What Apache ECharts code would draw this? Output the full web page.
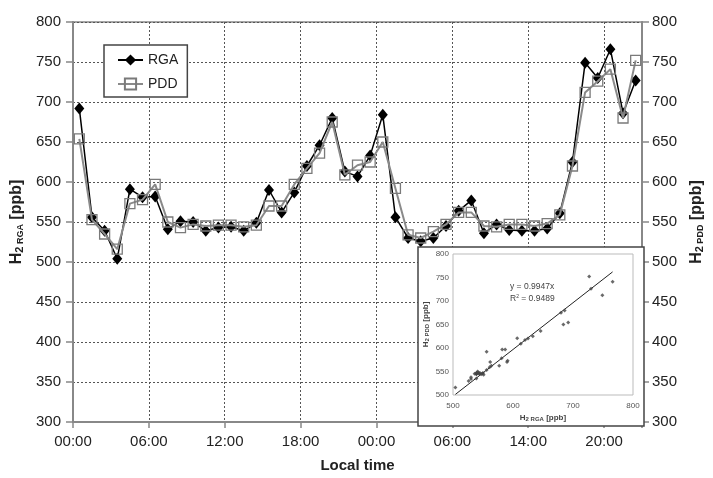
<!DOCTYPE html>
<html>
<head>
<meta charset="utf-8">
<script src="https://cdn.jsdelivr.net/npm/echarts@6/dist/echarts.min.js"></script>
<style>
  html, body { margin: 0; padding: 0; background: #fff; }
  #chart { width: 713px; height: 478px; }
</style>
</head>
<body>
<div id="chart"></div>
<script>
// Hydrogen mixing ratios from the two instruments, one value per sample slot
const tickLabels = ['00:00', '06:00', '12:00', '18:00', '00:00', '06:00', '14:00', '20:00'];
const samplesPerTick = 6;

const rga = [692, 556, 539, 504, 591, 581, 582, 541, 551, 550, 539, 543, 544, 539, 549,
             590, 562, 587, 620, 646, 680, 613, 607, 633, 684, 556, 530, 526, 530, 545,
             564, 577, 536, 547, 540, 539, 539, 542, 561, 625, 749, 730, 766, 686, 727];
const pdd = [654, 553, 535, 516, 573, 578, 597, 550, 543, 547, 545, 546, 546, 544, 546,
             570, 570, 597, 617, 636, 675, 609, 621, 625, 650, 592, 534, 530, 538, 547,
             562, 562, 545, 544, 547, 547, 545, 548, 559, 620, 712, 726, 741, 680, 752];

// Fit through the origin for the PDD vs RGA comparison
const fitSlope = 0.9947;
const fitR2 = 0.9489;

const FONT = '"Liberation Sans", Arial, sans-serif';
const TXT = '#222';

const nSamples = rga.length;
const rgaSeries = rga.map((v, i) => [i + 0.5, v]);
const pddSeries = pdd.map((v, i) => [i + 0.5, v]);
const pairs = rga.map((v, i) => [v, pdd[i]]);
const rgaMin = Math.min(...rga), rgaMax = Math.max(...rga);
const fitLine = [[rgaMin, fitSlope * rgaMin], [rgaMax, fitSlope * rgaMax]];

const titleRich = {
  h: { fontFamily: FONT, fontSize: 16, fontWeight: 'bold', color: TXT },
  s: { fontFamily: FONT, fontSize: 11, fontWeight: 'bold', color: TXT, verticalAlign: 'bottom' },
  t: { fontFamily: FONT, fontSize: 9, fontWeight: 'bold', color: TXT, verticalAlign: 'bottom' }
};
const smallRich = {
  h: { fontFamily: FONT, fontSize: 8, fontWeight: 'bold', color: '#444' },
  s: { fontFamily: FONT, fontSize: 6, fontWeight: 'bold', color: '#444', verticalAlign: 'bottom' }
};

const gridLine = { show: true, lineStyle: { color: '#555', width: 1, type: [2, 2] } };
const axisLineMain = { show: true, lineStyle: { color: '#888', width: 2 } };

const chart = echarts.init(document.getElementById('chart'), null, { renderer: 'canvas' });

chart.setOption({
  animation: false,
  backgroundColor: '#fff',
  legend: {
    orient: 'vertical',
    left: 104, top: 45,
    padding: [8, 9, 6, 13],
    itemWidth: 25, itemHeight: 14, itemGap: 10,
    borderColor: '#444', borderWidth: 1.5,
    backgroundColor: '#fff',
    textStyle: { fontFamily: FONT, fontSize: 14, color: TXT },
    data: ['RGA', 'PDD']
  },
  grid: [
    { left: 73, right: 69, top: 22, bottom: 52, show: true, borderColor: '#888', borderWidth: 1.5 },
    { left: 453, right: 80, top: 254, bottom: 83, show: true, borderColor: '#bbb', borderWidth: 1,
      backgroundColor: '#fff', z: 11 }
  ],
  xAxis: [
    {
      type: 'value', gridIndex: 0, min: 0, max: nSamples, interval: samplesPerTick,
      axisLine: axisLineMain,
      axisTick: { show: true, inside: false, length: 6, lineStyle: { color: '#888', width: 1.5 } },
      axisLabel: {
        margin: 12, fontFamily: FONT, fontSize: 15, color: TXT,
        formatter: v => (v % samplesPerTick === 0 && tickLabels[v / samplesPerTick] !== undefined) ? tickLabels[v / samplesPerTick] : ''
      },
      splitLine: gridLine,
      name: 'Local time', nameLocation: 'middle', nameGap: 36,
      nameTextStyle: { fontFamily: FONT, fontSize: 15, fontWeight: 'bold', color: TXT }
    },
    {
      type: 'value', gridIndex: 1, min: 500, max: 800, interval: 100, z: 12,
      axisLine: { show: false },
      axisTick: { show: false },
      axisLabel: { margin: 7, fontFamily: FONT, fontSize: 8, color: '#555' },
      splitLine: { show: false },
      name: '{h|H}{s|2 RGA}{h| [ppb]}', nameLocation: 'middle', nameGap: 19,
      nameTextStyle: { rich: smallRich }
    }
  ],
  yAxis: [
    {
      type: 'value', gridIndex: 0, min: 300, max: 800, interval: 50,
      axisLine: axisLineMain,
      axisTick: { show: true, inside: false, length: 7, lineStyle: { color: '#888', width: 1.5 } },
      axisLabel: { margin: 12, fontFamily: FONT, fontSize: 15, color: TXT },
      splitLine: gridLine,
      name: '{h|H}{s|2}{t| RGA}{h| [ppb]}', nameLocation: 'middle', nameGap: 45, nameRotate: 90,
      nameTextStyle: { rich: titleRich }
    },
    {
      type: 'value', gridIndex: 0, position: 'right', min: 300, max: 800, interval: 50,
      axisLine: axisLineMain,
      axisTick: { show: true, inside: false, length: 7, lineStyle: { color: '#888', width: 1.5 } },
      axisLabel: { margin: 10, fontFamily: FONT, fontSize: 15, color: TXT },
      splitLine: { show: false },
      name: '{h|H}{s|2}{t| PDD}{h| [ppb]}', nameLocation: 'middle', nameGap: 47, nameRotate: 90,
      nameTextStyle: { rich: titleRich }
    },
    {
      type: 'value', gridIndex: 1, min: 500, max: 800, interval: 50, z: 12,
      axisLine: { show: false },
      axisTick: { show: false },
      axisLabel: { margin: 4, fontFamily: FONT, fontSize: 8, color: '#555' },
      splitLine: { show: false },
      name: '{h|H}{s|2 PDD}{h| [ppb]}', nameLocation: 'middle', nameGap: 23, nameRotate: 90,
      nameTextStyle: { rich: smallRich }
    }
  ],
  graphic: [
    {
      type: 'rect', z: 10,
      shape: { x: 418, y: 247, width: 226, height: 179 },
      style: { fill: '#fff', stroke: '#444', lineWidth: 1.5 }
    },
    {
      type: 'text', z: 14, left: 510, top: 282,
      style: { text: 'y = ' + fitSlope.toFixed(4) + 'x', font: '8.5px ' + FONT, fill: '#444' }
    },
    {
      type: 'text', z: 14, left: 510, top: 294,
      style: {
        text: '{a|R}{b|2}{a| = ' + fitR2.toFixed(4) + '}',
        rich: {
          a: { font: '8.5px ' + FONT, fill: '#444' },
          b: { font: '5px ' + FONT, fill: '#444', verticalAlign: 'top' }
        }
      }
    }
  ],
  series: [
    {
      name: 'RGA', type: 'line', xAxisIndex: 0, yAxisIndex: 0, data: rgaSeries, z: 3,
      symbol: 'diamond', symbolSize: [10, 12],
      lineStyle: { color: '#000', width: 1.5 },
      itemStyle: { color: '#000' }
    },
    {
      name: 'PDD', type: 'line', xAxisIndex: 0, yAxisIndex: 0, data: pddSeries, z: 4,
      symbol: 'rect', symbolSize: 10,
      lineStyle: { color: '#8a8a8a', width: 2 },
      itemStyle: { color: 'rgba(255,255,255,0)', borderColor: '#7a7a7a', borderWidth: 1.3 }
    },
    {
      name: 'pairs', type: 'scatter', xAxisIndex: 1, yAxisIndex: 2, data: pairs, z: 13,
      symbol: 'diamond', symbolSize: 4,
      itemStyle: { color: '#444' }
    },
    {
      name: 'fit', type: 'line', xAxisIndex: 1, yAxisIndex: 2, data: fitLine, z: 13,
      symbol: 'none', lineStyle: { color: '#222', width: 1 }
    }
  ]
});
</script>
</body>
</html>
